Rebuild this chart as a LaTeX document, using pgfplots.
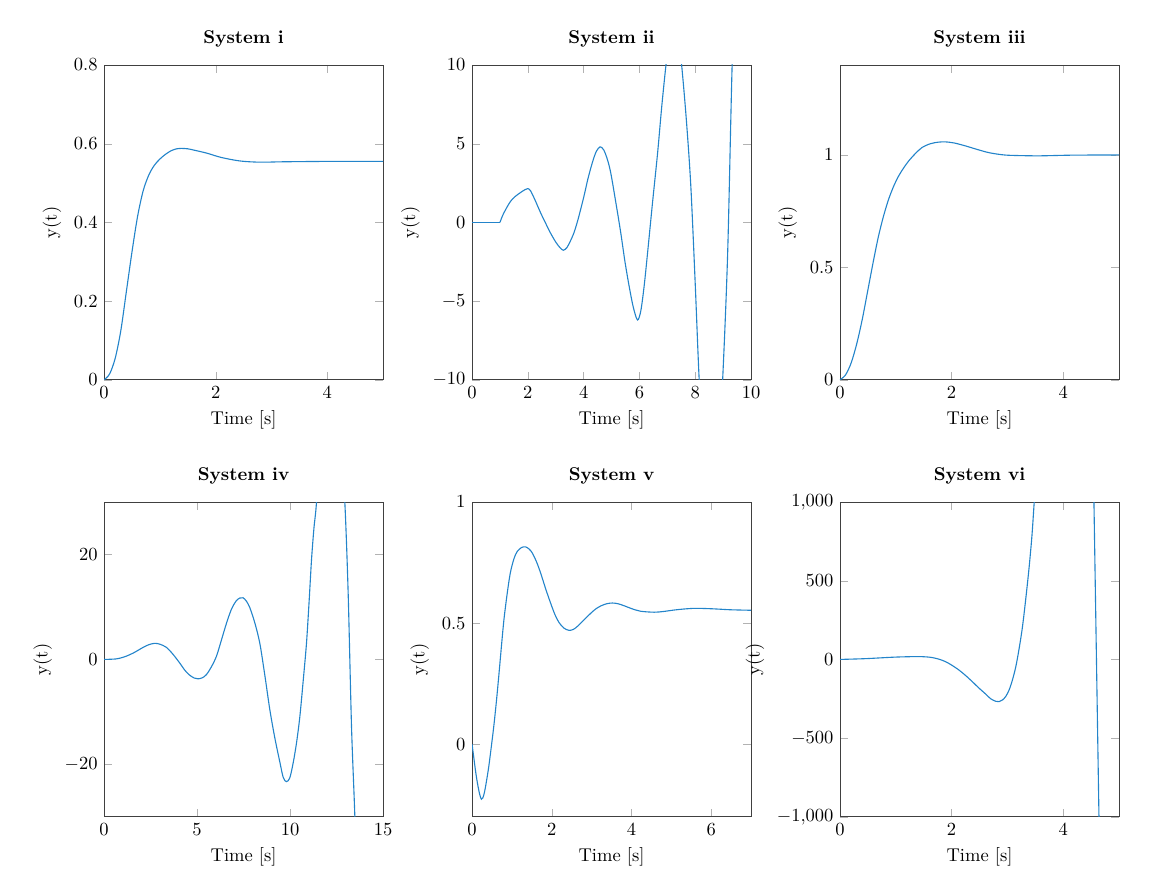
\documentclass[border=0pt]{standalone}
\usepackage{pgfplots}
\pgfplotsset{compat=1.18}
\usepgfplotslibrary{groupplots}
\definecolor{linecol}{RGB}{35,132,202}
\pgfplotsset{sysline/.style={color=linecol, line width=0.6pt, mark=none}}
\begin{document}
\begin{tikzpicture}
\begin{groupplot}[
  group style={group size=3 by 2, horizontal sep=48pt, vertical sep=66pt},
  scale only axis, width=150.7pt, height=170pt,
  xlabel={Time [s]}, ylabel={y(t)},
  title style={font=\bfseries},
  axis line style={black!75},
  major tick style={black!30},
]
% System i
\nextgroupplot[title={System i}, xmin=0, xmax=5, ymin=0, ymax=0.8,
  xtick={0,2,4}, ytick={0,0.2,0.4,0.6,0.8}]
\addplot[sysline, smooth] coordinates {(0,0) (0.1,0.015) (0.2,0.055) (0.3,0.125) (0.4,0.225) (0.5,0.325) (0.6,0.415) (0.7,0.48) (0.8,0.52) (0.9,0.545) (1.0,0.561) (1.1,0.573) (1.2,0.582) (1.3,0.587) (1.39,0.588) (1.5,0.587) (1.6,0.584) (1.84,0.576) (2.1,0.565) (2.44,0.556) (2.8,0.553) (3.2,0.554) (4,0.555) (5,0.555)};
% System ii
\nextgroupplot[title={System ii}, xmin=0, xmax=10, ymin=-10, ymax=10,
  xtick={0,2,4,6,8,10}, ytick={-10,-5,0,5,10}]
\addplot[sysline] coordinates {(0,0) (1,0)};
\addplot[sysline, smooth] coordinates {(1,0) (1.1,0.45) (1.2,0.8) (1.38,1.34) (1.55,1.65) (1.74,1.9) (1.9,2.08) (2.01,2.15)};
\addplot[sysline, smooth] coordinates {(2.01,2.15) (2.1,2.0) (2.25,1.45) (2.46,0.6) (2.65,-0.1) (2.81,-0.67) (3.0,-1.25) (3.15,-1.6) (3.27,-1.77) (3.4,-1.6) (3.52,-1.2) (3.65,-0.67) (3.8,0.2) (4.01,1.66) (4.15,2.75) (4.31,3.79) (4.45,4.5) (4.59,4.8) (4.72,4.6) (4.85,4.0) (4.97,3.15) (5.15,1.3) (5.33,-0.67) (5.48,-2.5) (5.63,-4.06) (5.78,-5.4) (5.93,-6.2) (6.05,-5.6) (6.17,-4.0) (6.29,-1.94) (6.47,1.3) (6.65,4.42) (6.8,7.4) (6.95,10) (7.08,11.8) (7.23,12.7) (7.38,11.7) (7.51,10) (7.68,6.5) (7.84,2.3) (8.0,-4) (8.14,-10) (8.3,-14.5) (8.55,-18) (8.8,-15.5) (8.98,-10) (9.16,-1.94) (9.32,10) (9.5,20) (9.75,30) (10,34)};
% System iii
\nextgroupplot[title={System iii}, xmin=0, xmax=5, ymin=0, ymax=1.4,
  xtick={0,2,4}, ytick={0,0.5,1}]
\addplot[sysline, smooth] coordinates {(0,0) (0.1,0.022) (0.2,0.075) (0.3,0.16) (0.4,0.27) (0.5,0.40) (0.6,0.53) (0.69,0.639) (0.78,0.728) (0.87,0.802) (0.96,0.86) (1.05,0.906) (1.14,0.942) (1.23,0.973) (1.35,1.006) (1.47,1.033) (1.62,1.05) (1.77,1.057) (1.89,1.058) (2.05,1.053) (2.25,1.040) (2.45,1.025) (2.67,1.010) (2.9,1.001) (3.08,0.998) (3.56,0.996) (4.16,0.999) (5,1.0)};
% System iv
\nextgroupplot[title={System iv}, xmin=0, xmax=15, ymin=-30, ymax=30,
  xtick={0,5,10,15}, ytick={-20,0,20}]
\addplot[sysline, smooth] coordinates {(0,0) (0.66,0.1) (1.1,0.5) (1.56,1.2) (2.1,2.3) (2.4,2.8) (2.72,3.07) (3.0,2.9) (3.35,2.3) (3.7,1.0) (4.07,-0.7) (4.35,-2.1) (4.6,-3.0) (4.85,-3.55) (5.05,-3.7) (5.28,-3.5) (5.5,-2.9) (5.77,-1.4) (6.04,0.6) (6.3,3.6) (6.58,6.9) (6.85,9.6) (7.11,11.2) (7.3,11.7) (7.47,11.75) (7.65,11.1) (7.83,9.9) (8.1,7.0) (8.37,3.1) (8.64,-3.0) (8.91,-9.6) (9.18,-15.0) (9.45,-19.6) (9.63,-22.5) (9.8,-23.3) (9.98,-22.6) (10.16,-19.8) (10.34,-16.0) (10.52,-11.0) (10.7,-4.2) (10.88,3.1) (11.02,11) (11.15,19) (11.28,25) (11.42,30) (11.7,45) (12.0,53) (12.2,55) (12.45,52) (12.7,43) (12.94,30) (13.12,12.6) (13.3,-12.8) (13.48,-30) (13.7,-55) (14,-90)};
% System v
\nextgroupplot[title={System v}, xmin=0, xmax=7, ymin=-0.3, ymax=1,
  xtick={0,2,4,6}, ytick={0,0.5,1}]
\addplot[sysline, smooth] coordinates {(0,0) (0.04,-0.05) (0.084,-0.106) (0.126,-0.152) (0.168,-0.189) (0.2,-0.212) (0.235,-0.227) (0.27,-0.222) (0.31,-0.2) (0.36,-0.155) (0.42,-0.092) (0.48,-0.015) (0.545,0.073) (0.61,0.175) (0.67,0.28) (0.735,0.4) (0.8,0.514) (0.88,0.62) (0.96,0.707) (1.05,0.765) (1.13,0.795) (1.24,0.812) (1.34,0.815) (1.43,0.806) (1.51,0.79) (1.62,0.752) (1.72,0.707) (1.85,0.64) (1.97,0.583) (2.08,0.535) (2.18,0.503) (2.3,0.48) (2.43,0.47) (2.54,0.474) (2.64,0.486) (2.8,0.512) (2.98,0.541) (3.1,0.558) (3.23,0.571) (3.38,0.58) (3.52,0.583) (3.66,0.58) (3.81,0.572) (4.0,0.56) (4.23,0.549) (4.57,0.545) (4.8,0.548) (5.07,0.554) (5.3,0.558) (5.58,0.561) (5.9,0.56) (6.16,0.558) (6.5,0.555) (7,0.553)};
% System vi
\nextgroupplot[title={System vi}, xmin=0, xmax=5, ymin=-1000, ymax=1000,
  xtick={0,2,4}, ytick={-1000,-500,0,500,1000}]
\addplot[sysline, smooth] coordinates {(0,0) (0.46,5) (0.94,14) (1.2,17) (1.42,18) (1.55,16) (1.65,12) (1.77,2) (1.89,-14) (2.0,-36) (2.13,-67) (2.25,-102) (2.37,-141) (2.49,-182) (2.61,-220) (2.7,-250) (2.79,-266) (2.85,-268) (2.91,-258) (2.97,-235) (3.03,-194) (3.09,-130) (3.15,-46) (3.21,70) (3.27,209) (3.33,390) (3.39,591) (3.44,790) (3.48,1000) (3.55,1350) (3.65,2000)};
\addplot[sysline] coordinates {(4.45,2800) (4.5,2100) (4.55,1000) (4.595,0) (4.64,-1000) (4.7,-2300)};
\end{groupplot}
\pgfresetboundingbox
\path[use as bounding box] (group c1r1.north west) ++(-56.2pt,35.1pt) rectangle ++(626.4pt,-473pt);
\end{tikzpicture}
\end{document}
